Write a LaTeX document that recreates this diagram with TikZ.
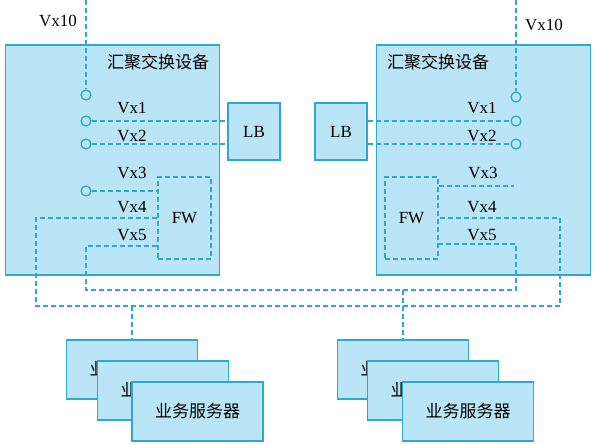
\documentclass[tikz,border=0pt]{standalone}
\usepackage{fontspec}
\setmainfont{Liberation Serif}
\newfontfamily\cjk{Noto Sans CJK SC}
\usetikzlibrary{positioning}
\definecolor{boxfill}{RGB}{185,229,247}
\definecolor{boxline}{RGB}{47,168,204}

\begin{document}
\begin{tikzpicture}[x=1pt,y=-1pt,font=\fontsize{17}{20}\selectfont]
  \useasboundingbox (0,0) rectangle (596,444);

  \tikzstyle{SwitchStyle}=[draw=boxline,fill=boxfill,line width=1.3pt,minimum width=214pt,minimum height=230pt,inner sep=0pt]
  \tikzstyle{BoxStyle}=[draw=boxline,fill=boxfill,line width=1.3pt,minimum width=52pt,minimum height=57pt,inner sep=0pt]
  \tikzstyle{FwStyle}=[draw=boxline,dash pattern=on 5pt off 3pt,line width=1.2pt,minimum width=53pt,minimum height=82pt,inner sep=0pt]
  \tikzstyle{ServerStyle}=[draw=boxline,fill=boxfill,line width=1.3pt,minimum width=131pt,minimum height=59pt,inner sep=0pt,font=\fontsize{17}{20}\cjk]
  \tikzstyle{PortStyle}=[circle,draw=boxline,fill=boxfill,line width=1.3pt,minimum size=10pt,inner sep=0pt]
  \tikzstyle{LinkStyle}=[draw=boxline,dash pattern=on 5pt off 3pt,line width=1.2pt]

  \node[SwitchStyle] (swL) at (112.5,160) {};
  \node[SwitchStyle] (swR) at (483.5,160) {};
  \node[font=\fontsize{17}{20}\cjk] (titleL) at (158,62) {汇聚交换设备};
  \node[font=\fontsize{17}{20}\cjk] (titleR) at (438,62) {汇聚交换设备};

  \node[BoxStyle] (lbL) at (254,131.5) {LB};
  \node[BoxStyle] (lbR) at (341,131.5) {LB};
  \node[FwStyle] (fwL) at (184.5,218) {FW};
  \node[FwStyle] (fwR) at (411.5,218) {FW};

  \node (vx10L) at (58,21) {Vx10};
  \node (vx1L) at (132,108) {Vx1};
  \node (vx2L) at (132,136) {Vx2};
  \node (vx3L) at (132,173) {Vx3};
  \node (vx4L) at (132,207) {Vx4};
  \node (vx5L) at (132,235) {Vx5};
  \node (vx10R) at (544,25) {Vx10};
  \node (vx1R) at (482,108) {Vx1};
  \node (vx2R) at (482,136) {Vx2};
  \node (vx3R) at (483,173) {Vx3};
  \node (vx4R) at (482,207) {Vx4};
  \node (vx5R) at (482,235) {Vx5};

  \node[PortStyle] (portL10) at (86,95) {};
  \node[PortStyle] (portL1) at (86,121) {};
  \node[PortStyle] (portL2) at (86,144) {};
  \node[PortStyle] (portL3) at (86,191) {};
  \node[PortStyle] (portR10) at (516,97) {};
  \node[PortStyle] (portR1) at (516,121) {};
  \node[PortStyle] (portR2) at (516,144) {};

  \coordinate (topL) at (86,0);
  \coordinate (topR) at (516,0);
  \coordinate (endR3) at (514,186);
  \coordinate (bendL4) at (36,218);
  \coordinate (bendR4) at (560,218);
  \coordinate (bendL5) at (86,246);
  \coordinate (bendR5) at (516,244);
  \coordinate (busIn) at (0,290);
  \coordinate (busOut) at (0,306);

  \node[ServerStyle] (srvL1) at (132,369.5) {业务服务器};
  \node[ServerStyle] (srvL2) at (163,390.5) {业务服务器};
  \node[ServerStyle] (srvL3) at (197.5,411.5) {业务服务器};
  \node[ServerStyle] (srvR1) at (403,369.5) {业务服务器};
  \node[ServerStyle] (srvR2) at (433,390.5) {业务服务器};
  \node[ServerStyle] (srvR3) at (468,411.5) {业务服务器};

  \draw[LinkStyle] (topL) -- (portL10);
  \draw[LinkStyle] (topR) -- (portR10);
  \draw[LinkStyle] (portL1) -- (portL1 -| lbL.west);
  \draw[LinkStyle] (portL2) -- (portL2 -| lbL.west);
  \draw[LinkStyle] (portL3) -- (portL3 -| fwL.west);
  \draw[LinkStyle] (lbR.east |- portR1) -- (portR1);
  \draw[LinkStyle] (lbR.east |- portR2) -- (portR2);
  \draw[LinkStyle] (fwR.east |- endR3) -- (endR3);
  \draw[LinkStyle] (fwL.west |- bendL4) -- (bendL4) -- (bendL4 |- busOut) -- (bendR4 |- busOut) -- (bendR4) -- (fwR.east |- bendR4);
  \draw[LinkStyle] (fwL.west |- bendL5) -- (bendL5) -- (bendL5 |- busIn) -- (bendR5 |- busIn) -- (bendR5) -- (fwR.east |- bendR5);
  \draw[LinkStyle] (srvL1.north |- busOut) -- (srvL1.north);
  \draw[LinkStyle] (srvR1.north |- busIn) -- (srvR1.north);
\end{tikzpicture}
\end{document}
